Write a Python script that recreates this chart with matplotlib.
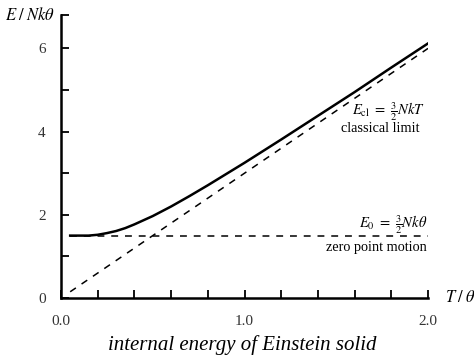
import numpy as np
import matplotlib.pyplot as plt

plt.rcParams['font.family'] = 'Liberation Serif'
plt.rcParams['mathtext.fontset'] = 'stix'

# energy of Einstein solid
T = [0.05, 0.1, 0.15, 0.2, 0.25, 0.3, 0.35, 0.4, 0.5, 0.6, 0.7, 0.8, 1.0, 1.2, 1.4, 1.6, 1.8, 2.0]
E = [1.50, 1.50, 1.50, 1.52, 1.56, 1.61, 1.68, 1.77, 1.97, 2.20, 2.45, 2.71, 3.25, 3.81, 4.38, 4.95, 5.54, 6.12]
# classical limit and zero point lines
T_cl = [0.05, 2.0]
E_cl = [0.15, 6.0]
T_zp = [0.05, 2.0]
E_zp = [1.5, 1.5]

fig = plt.figure(figsize=(4.74, 3.6), dpi=100)
ax = fig.add_axes([0.1287, 0.1722, 0.7743, 0.7858])

ax.plot(T, E, color='black', lw=1.8)
ax.plot(T_cl, E_cl, color='black', lw=1.1, ls=(0, (4.5, 4.5)))
ax.plot(T_zp, E_zp, color='black', lw=1.1, ls=(0, (4.5, 4.5)))

ax.set_xlim(0, 2.0)
ax.set_ylim(0, 6.8)
ax.spines['top'].set_visible(False)
ax.spines['right'].set_visible(False)
ax.spines['left'].set_linewidth(1.8)
ax.spines['bottom'].set_linewidth(1.8)

ax.set_xticks([0.0, 1.0, 2.0])
ax.set_xticklabels(['0.0', '1.0', '2.0'])
ax.set_xticks(np.arange(0.2, 2.0, 0.2), minor=True)
ax.set_yticks([0, 2, 4, 6])
ax.set_yticks([1, 3, 5, 6.8], minor=True)
ax.tick_params(which='both', direction='in', width=1.3, colors='black',
               labelcolor='#333333', labelsize=11)
ax.tick_params(which='major', length=6)
ax.tick_params(which='minor', length=6)
ax.tick_params(axis='x', pad=12)
ax.tick_params(axis='y', pad=11)

ax.text(-0.03, 6.8, r'$E\;/\;Nk\theta$', ha='right', va='center', fontsize=12)
ax.text(2.09, 0.0, r'$T\;/\;\theta$', ha='left', va='center', fontsize=12,
        clip_on=False)

ax.text(1.98, 4.47, r'$E_{\rm cl}\ =\ \frac{3}{2}NkT$', ha='right', va='center', fontsize=10.5)
ax.text(1.956, 4.07, 'classical limit', ha='right', va='center', fontsize=10.3)
ax.text(1.995, 1.75, r'$E_0\ =\ \frac{3}{2}Nk\theta$', ha='right', va='center', fontsize=10.5)
ax.text(1.995, 1.22, 'zero point motion', ha='right', va='center', fontsize=10.3)

fig.text(0.511, 0.042, 'internal energy of Einstein solid', ha='center', va='center',
         fontsize=15, style='italic')

plt.savefig('out.png', dpi=100)
